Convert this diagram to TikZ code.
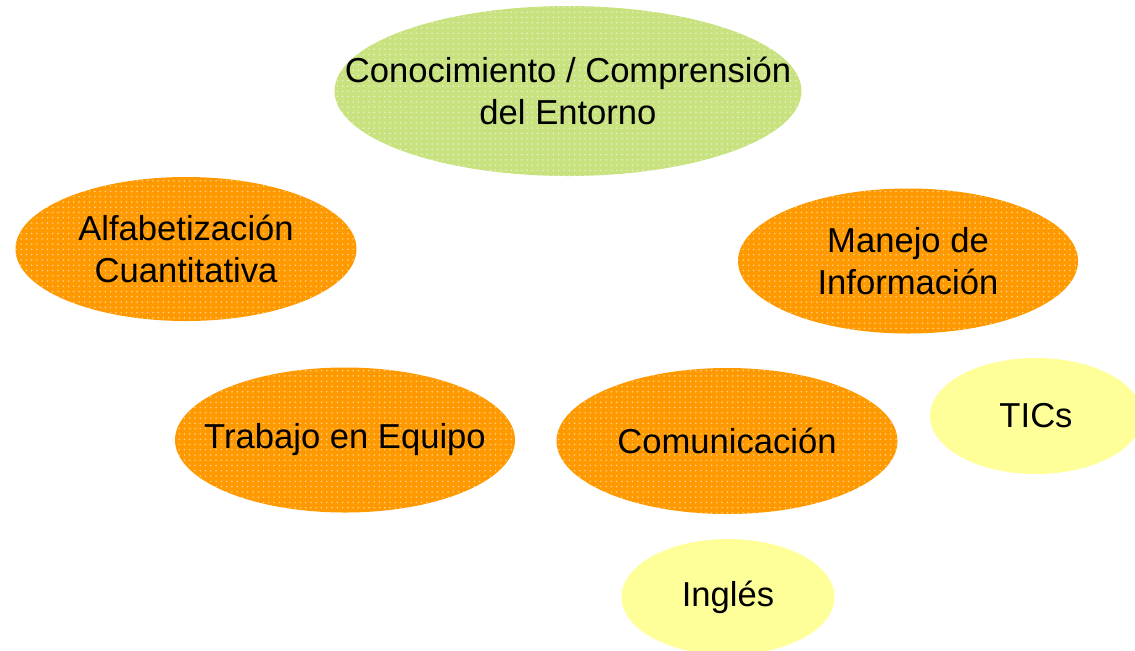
\documentclass[tikz,border=0pt]{standalone}
\usepackage{fontspec}
\setmainfont{Liberation Sans}
\usetikzlibrary{shapes, patterns, positioning}
\definecolor{naranja}{RGB}{255,153,0}
\definecolor{verde}{RGB}{200,226,128}
\definecolor{amarillo}{RGB}{255,255,153}
\tikzset{
    bola/.style n args={3}{ellipse, inner sep=-3cm, align=center,
        minimum width=#1*0.02 cm, minimum height=#2*0.02 cm,
        preaction={fill=#3}},
    punteado/.style={pattern=dots, pattern color=white!55!#1},
}
\begin{document}
\begin{tikzpicture}[x=0.02cm, y=-0.02cm]
    \useasboundingbox (0,0) rectangle (1135,650);
    \tikzstyle{every node}=[font=\fontsize{19.7}{24}\selectfont, text=black];
    \coordinate (c1) at (568, 91);
    \coordinate (c2) at (186, 249);
    \coordinate (c3) at (908, 261);
    \coordinate (c4) at (1036, 416);
    \coordinate (c5) at (345, 440);
    \coordinate (c6) at (727, 441);
    \coordinate (c7) at (728, 597);
    % competencias
    \node[bola={467}{170}{verde}, punteado=verde] (entorno) at (c1) {Conocimiento / Comprensión\\del Entorno};
    \node[bola={341}{144}{naranja}, punteado=naranja] (cuanti) at (c2) {Alfabetización\\Cuantitativa};
    \node[bola={340}{145}{naranja}, punteado=naranja] (manejo) at (c3) {Manejo de\\Información};
    \node[bola={212}{116}{amarillo}] (tics) at (c4) {TICs};
    \node[bola={340}{145}{naranja}, punteado=naranja] (equipo) at (c5) {Trabajo en Equipo};
    \node[bola={341}{146}{naranja}, punteado=naranja] (comunica) at (c6) {Comunicación};
    \node[bola={213}{116}{amarillo}] (ingles) at (c7) {Inglés};
\end{tikzpicture}
\end{document}
